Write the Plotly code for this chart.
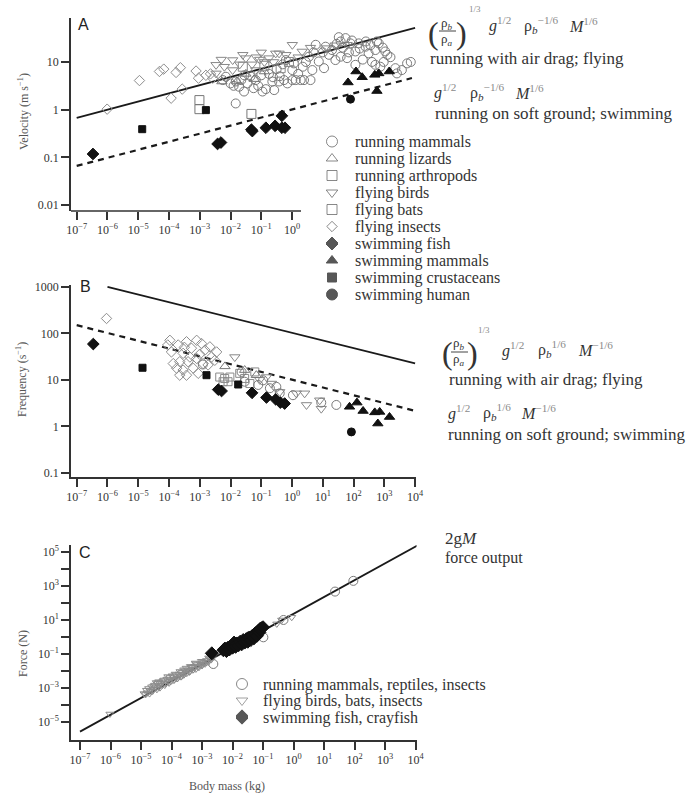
import plotly.graph_objects as go

W, H = 693, 796
SERIF = "Liberation Serif"
SANS = "Liberation Sans"
AX = "#333333"
TXT = "#333333"
GRAY = "#808080"
BLACK = "#111111"

# ---------------- DATA (log10 values) ----------------
# Panel A: velocity (m/s) vs body mass (kg)
a_mammals_logm = [-2.25, -2.15, -2.0, -1.9, -1.83, -1.83, -1.72, -1.65, -1.56, -1.55, -1.45, -1.35, -1.25, -1.18,
                  -1.10, -1.00, -0.96, -0.85, -0.75, -0.64, -0.62, -0.58, -0.50, -0.42, -0.40, -0.30, -0.26, -0.20,
                  -0.15, 0.01, 0.01, 0.06, 0.12, 0.20, 0.28, 0.35, 0.39, 0.45, 0.55, 0.60, 0.66, 0.70, 0.77, 0.87,
                  1.00, 1.04, 1.09, 1.20, 1.30, 1.41, 1.45, 1.52, 1.58, 1.58, 1.65, 1.74, 1.79, 1.85, 1.90, 1.95,
                  2.06, 2.06, 2.17, 2.20, 2.30, 2.39, 2.40, 2.49, 2.55, 2.60, 2.71, 2.71, 2.76, 2.82, 2.87, 2.95,
                  2.98, 3.03, 3.10, 3.20, 3.36, 3.41, 3.57, 3.74, 3.86]
a_mammals_logv = [0.62, 0.69, 0.55, 0.50, 0.59, 0.13, 0.48, 0.62, 0.38, 0.72, 0.55, 0.70, 0.45, 0.62,
                  0.50, 0.72, 0.38, 0.43, 0.75, 0.59, 0.68, 0.41, 0.85, 0.59, 0.70, 0.95, 0.62, 1.04,
                  0.55, 0.62, 0.83, 0.97, 0.62, 0.75, 0.62, 0.90, 0.62, 1.00, 1.11, 0.62, 0.83, 1.20, 1.36, 1.01,
                  1.20, 0.87, 1.32, 1.15, 1.25, 1.04, 1.38, 1.52, 1.11, 1.43, 1.30, 1.50, 1.08, 1.20, 1.39, 1.45,
                  1.22, 0.94, 1.39, 1.28, 1.05, 1.32, 1.43, 1.18, 1.35, 1.00, 1.25, 0.94, 1.43, 1.39, 0.90, 1.30,
                  1.00, 1.22, 1.15, 1.10, 0.87, 0.76, 0.83, 0.97, 1.00]
a_lizards_logm = [-2.28, -1.79, -1.50, -1.23, -0.90]
a_lizards_logv = [0.59, 0.59, 0.75, 0.64, 0.80]
a_arthro_logm = [-3.01, -3.01, -1.32]
a_arthro_logv = [0.20, 0.01, -0.09]
a_birds_logm = [-2.47, -2.47, -2.30, -2.20, -1.93, -1.93, -1.70, -1.60, -1.50, -1.30, -1.18, -1.16, -1.05, -1.00,
                -0.90, -0.75, -0.60, -0.53, -0.42, -0.20, 0.01, 0.20, 0.33, 0.60, 1.14, 1.40, 1.79]
a_birds_logv = [0.94, 0.76, 1.05, 0.90, 1.04, 0.83, 0.95, 1.15, 1.08, 0.95, 0.83, 1.10, 1.05, 1.20,
                1.00, 1.08, 1.00, 1.18, 1.18, 1.15, 1.36, 1.10, 1.22, 1.30, 1.29, 1.35, 1.36]
a_bats_logm = [-1.60, -0.90, -0.37, -0.10]
a_bats_logv = [0.90, 0.92, 0.87, 1.00]
a_insects_logm = [-6.01, -4.96, -4.31, -4.17, -3.93, -3.77, -3.63, -3.57, -3.12, -3.04, -2.80, -2.65, -2.58]
a_insects_logv = [0.01, 0.61, 0.80, 0.85, 0.24, 0.78, 0.88, 0.43, 0.81, 0.66, 0.72, 0.75, 0.66]
a_fish_logm = [-6.47, -2.42, -2.31, -1.32, -1.29, -0.85, -0.55, -0.33, -0.33, -0.23]
a_fish_logv = [-0.93, -0.72, -0.69, -0.42, -0.45, -0.38, -0.34, -0.13, -0.38, -0.38]
a_swmam_logm = [1.82, 2.08, 2.28, 2.69, 2.76, 2.82, 3.16]
a_swmam_logv = [0.57, 0.80, 0.68, 0.73, 0.39, 0.76, 0.80]
a_crust_logm = [-4.87, -2.80]
a_crust_logv = [-0.41, -0.01]
a_human_logm = [1.90]
a_human_logv = [0.22]
a_solid_mass = [1e-7, 1e4]
a_solid_vel = [0.67, 51.6]
a_dash_mass = [1e-7, 7.9e3]
a_dash_vel = [0.066, 4.6]

# Panel B: frequency (1/s) vs body mass
b_insects_logm = [-6.03, -4.04, -3.97, -3.92, -3.86, -3.75, -3.70, -3.65, -3.65, -3.54, -3.54, -3.50, -3.43, -3.43,
                  -3.38, -3.32, -3.27, -3.21, -3.10, -3.10, -3.05, -3.00, -2.94, -2.89, -2.83, -2.73, -2.67,
                  -2.62, -2.51, -2.45]
b_insects_logf = [2.32, 1.75, 1.85, 1.60, 1.35, 1.25, 1.75, 1.39, 1.10, 1.57, 1.21, 1.70, 1.82, 1.10,
                  1.39, 1.49, 1.68, 1.25, 1.85, 1.46, 1.14, 1.55, 1.78, 1.35, 1.64, 1.32, 1.71,
                  1.49, 1.42, 1.60]
b_mammals_logm = [-2.90, -1.64, -1.54, -1.10, -0.94, -0.72, -0.51, -0.40, 0.03, 0.95, 1.44]
b_mammals_logf = [1.33, 1.17, 0.96, 0.89, 0.99, 0.82, 0.85, 0.71, 0.67, 0.51, 0.46]
b_lizards_logm = [-2.18, -1.54, -1.16]
b_lizards_logf = [1.29, 1.21, 1.10]
b_arthro_logm = [-2.35, -2.24, -2.19, -2.08, -2.02]
b_arthro_logf = [1.06, 0.96, 1.03, 0.96, 1.06]
b_birds_logm = [-1.86, -1.05, -0.83, -0.67, -0.40, 0.14, 0.41, 0.47, 0.90, 0.95]
b_birds_logf = [1.49, 1.00, 1.06, 0.92, 0.74, 0.71, 0.71, 0.46, 0.56, 0.38]
b_bats_logm = [-1.70, -1.54, -1.37, -1.21]
b_bats_logf = [1.14, 1.03, 0.92, 1.17]
b_fish_logm = [-6.46, -2.40, -2.29, -1.30, -0.83, -0.53, -0.38, -0.24]
b_fish_logf = [1.77, 0.79, 0.76, 0.72, 0.62, 0.58, 0.51, 0.49]
b_swmam_logm = [1.87, 2.11, 2.31, 2.69, 2.79, 2.85, 3.17]
b_swmam_logf = [0.42, 0.51, 0.33, 0.30, 0.06, 0.31, 0.20]
b_crust_logm = [-4.86, -2.78, -1.75]
b_crust_logf = [1.26, 1.10, 0.90]
b_human_logm = [1.93]
b_human_logf = [-0.12]
b_solid_mass = [1e-6, 1e4]
b_solid_freq = [1000, 22.5]
b_dash_mass = [1e-7, 1e4]
b_dash_freq = [150, 2.15]

# Panel C: force (N) vs body mass
c_run_logm = [-2.63, -0.99, -0.33, 1.36, 1.96]
c_run_logf = [-1.61, -0.04, 0.98, 2.65, 3.28]
c_fly_logm = [-6.02, -4.90, -4.85, -4.82, -4.80, -4.75, -4.72, -4.70, -4.65, -4.62, -4.60, -4.58, -4.55, -4.50,
              -4.50, -4.48, -4.45, -4.42, -4.40, -4.38, -4.35, -4.30, -4.28, -4.25, -4.22, -4.20, -4.15, -4.12,
              -4.10, -4.08, -4.05, -4.00, -3.98, -3.95, -3.92, -3.90, -3.88, -3.85, -3.82, -3.80, -3.75, -3.72,
              -3.70, -3.68, -3.65, -3.60, -3.60, -3.58, -3.55, -3.52, -3.50, -3.45, -3.42, -3.40, -3.38, -3.35,
              -3.30, -3.28, -3.25, -3.22, -3.20, -3.20, -3.15, -3.12, -3.10, -3.05, -3.02, -3.00, -2.98, -2.95,
              -2.90, -2.88, -2.85, -2.80, -2.78, -2.75, -2.70, -2.65, -0.55, -0.39, -0.06]
c_fly_logf = [-4.55, -3.35, -3.40, -3.15, -3.30, -3.05, -3.35, -3.20, -2.95, -3.20, -3.10, -2.90, -2.85, -3.00,
              -2.70, -3.10, -2.75, -2.65, -2.90, -3.00, -2.70, -2.85, -2.60, -2.55, -2.85, -2.75, -2.50, -2.35,
              -2.65, -2.72, -2.40, -2.60, -2.30, -2.35, -2.56, -2.50, -2.20, -2.25, -2.46, -2.45, -2.20, -2.05,
              -2.35, -2.35, -2.10, -2.25, -1.95, -2.21, -2.00, -1.85, -2.15, -1.95, -2.08, -2.05, -1.75, -1.80,
              -1.95, -1.93, -1.75, -1.55, -1.90, -1.60, -1.65, -1.77, -1.80, -1.60, -1.45, -1.70, -1.62, -1.50,
              -1.60, -1.52, -1.40, -1.50, -1.25, -1.30, -1.35, -1.20, 0.75, 0.98, 1.14]
c_swim_logm = [-2.68, -2.30, -2.25, -2.20, -2.15, -2.10, -2.05, -2.00, -1.95, -1.95, -1.90, -1.85, -1.80, -1.75,
               -1.70, -1.65, -1.60, -1.55, -1.50, -1.50, -1.45, -1.40, -1.35, -1.30, -1.25, -1.20, -1.15,
               -1.12, -1.10, -1.05, -1.00]
c_swim_logf = [-0.98, -0.80, -0.70, -0.85, -0.65, -0.75, -0.55, -0.65, -0.45, -0.35, -0.60, -0.40, -0.50, -0.30,
               -0.45, -0.20, -0.35, -0.15, -0.30, -0.10, -0.05, -0.20, 0.05, -0.10, 0.20, 0.05, 0.35,
               0.25, 0.45, 0.50, 0.55]
c_line_mass = [1e-7, 1.23e4]
c_line_force = [2.6e-6, 2.45e5]

# Tick labels
sup = lambda e: "10<sup>" + str(e).replace("-", "\u2212") + "</sup>"
xA_exp = list(range(-7, 1))
xBC_exp = list(range(-7, 5))
yA_vals = [0.01, 0.1, 1, 10]
yA_text = ["0.01", "0.1", "1", "10"]
yB_vals = [0.1, 1, 10, 100, 1000]
yB_text = ["0.1", "1", "10", "100", "1000"]
yC_exp = list(range(-5, 6))

legendA_labels = ["running mammals", "running lizards", "running arthropods", "flying birds", "flying bats",
                  "flying insects", "swimming fish", "swimming mammals", "swimming crustaceans", "swimming human"]
legendA_symbols = ["circle-open", "triangle-up-open", "square-open", "triangle-down-open", "square-open",
                   "diamond-open", "diamond", "triangle-up", "square", "circle"]
legendC_labels = ["running mammals, reptiles, insects", "flying birds, bats, insects", "swimming fish, crayfish"]
legendC_symbols = ["circle-open", "triangle-down-open", "diamond"]

# ---------------- FIGURE ----------------
P = lambda v: [10 ** x for x in v]
fig = go.Figure()


def pts(xa, ya, lm, lv, symbol, size, color, lw=1.0):
    fig.add_trace(go.Scatter(x=P(lm), y=P(lv), mode="markers", xaxis=xa, yaxis=ya, showlegend=False,
                             marker=dict(symbol=symbol, size=size, color=color, line=dict(width=lw, color=color))))


def line(xa, ya, xs, ys, dash=None, width=1.8):
    fig.add_trace(go.Scatter(x=xs, y=ys, mode="lines", xaxis=xa, yaxis=ya, showlegend=False,
                             line=dict(color="#1a1a1a", width=width, dash=dash)))


# Panel A
line("x", "y", a_solid_mass, a_solid_vel)
line("x", "y", a_dash_mass, a_dash_vel, dash="6px,5px", width=2.2)
pts("x", "y", a_insects_logm, a_insects_logv, "diamond-open", 8, "#8c8c8c")
pts("x", "y", a_birds_logm, a_birds_logv, "triangle-down-open", 9, "#888888")
pts("x", "y", a_mammals_logm, a_mammals_logv, "circle-open", 9, "#7a7a7a")
pts("x", "y", a_lizards_logm, a_lizards_logv, "triangle-up-open", 9, "#777777")
pts("x", "y", a_arthro_logm, a_arthro_logv, "square-open", 9, "#777777")
pts("x", "y", a_bats_logm, a_bats_logv, "square-open", 9, "#888888")
pts("x", "y", a_fish_logm, a_fish_logv, "diamond", 9, BLACK)
pts("x", "y", a_swmam_logm, a_swmam_logv, "triangle-up", 9, BLACK)
pts("x", "y", a_crust_logm, a_crust_logv, "square", 7, BLACK)
pts("x", "y", a_human_logm, a_human_logv, "circle", 8, BLACK)

# Panel B
line("x2", "y2", b_solid_mass, b_solid_freq)
line("x2", "y2", b_dash_mass, b_dash_freq, dash="6px,5px", width=2.2)
pts("x2", "y2", b_insects_logm, b_insects_logf, "diamond-open", 8, "#8c8c8c")
pts("x2", "y2", b_arthro_logm, b_arthro_logf, "square-open", 8, "#8a8a8a")
pts("x2", "y2", b_bats_logm, b_bats_logf, "square-open", 8, "#8a8a8a")
pts("x2", "y2", b_birds_logm, b_birds_logf, "triangle-down-open", 9, "#888888")
pts("x2", "y2", b_lizards_logm, b_lizards_logf, "triangle-up-open", 9, "#777777")
pts("x2", "y2", b_mammals_logm, b_mammals_logf, "circle-open", 9, "#7a7a7a")
pts("x2", "y2", b_fish_logm, b_fish_logf, "diamond", 9, BLACK)
pts("x2", "y2", b_swmam_logm, b_swmam_logf, "triangle-up", 9, BLACK)
pts("x2", "y2", b_crust_logm, b_crust_logf, "square", 7, BLACK)
pts("x2", "y2", b_human_logm, b_human_logf, "circle", 8, BLACK)

# Panel C
line("x3", "y3", c_line_mass, c_line_force)
pts("x3", "y3", c_fly_logm, c_fly_logf, "triangle-down-open", 7, "#8c8c8c")
pts("x3", "y3", c_run_logm, c_run_logf, "circle-open", 9, "#7a7a7a")
pts("x3", "y3", c_swim_logm, c_swim_logf, "diamond", 10, BLACK)

# Legends built as marker keys on their own category axes
legA_colors = ["#555555"] * 6 + [BLACK] * 4
legA_sizes = [11, 10, 10, 10, 10, 8, 10, 10, 9, 11]
fig.add_trace(go.Scatter(x=[0] * len(legendA_labels), y=legendA_labels, mode="markers", xaxis="x4", yaxis="y4",
                         showlegend=False,
                         marker=dict(symbol=legendA_symbols, size=legA_sizes, color=legA_colors,
                                     line=dict(width=1, color=legA_colors))))
legC_colors = ["#555555", "#777777", BLACK]
fig.add_trace(go.Scatter(x=[0] * len(legendC_labels), y=legendC_labels, mode="markers", xaxis="x5", yaxis="y5",
                         showlegend=False,
                         marker=dict(symbol=legendC_symbols, size=[11, 10, 11], color=legC_colors,
                                     line=dict(width=1, color=legC_colors))))


def ax(**kw):
    d = dict(type="log", showgrid=False, zeroline=False, showline=True, linecolor=AX, linewidth=1.5,
             ticks="outside", ticklen=8, tickwidth=1.5, tickcolor=AX,
             tickfont=dict(family=SERIF, size=12, color=TXT))
    d.update(kw)
    return d


def fy(p):
    return 1 - p / H


xdomA = [71 / W, 416 / W]
fig.update_layout(
    template="none",
    width=W, height=H, margin=dict(l=0, r=0, t=0, b=0),
    paper_bgcolor="white", plot_bgcolor="rgba(0,0,0,0)",
    font=dict(family=SERIF, color=TXT),
    xaxis=ax(domain=xdomA, range=[-7.185, 4.03], anchor="y", showline=False,
             tickvals=[10 ** e for e in xA_exp], ticktext=[sup(e) for e in xA_exp]),
    yaxis=ax(domain=[fy(211), fy(18)], range=[-2.126, 1.922], anchor="x", tickvals=yA_vals, ticktext=yA_text),
    xaxis2=ax(domain=xdomA, range=[-7.185, 4.03], anchor="y2",
              tickvals=[10 ** e for e in xBC_exp], ticktext=[sup(e) for e in xBC_exp]),
    yaxis2=ax(domain=[fy(477), fy(285)], range=[-1.09, 3.04], anchor="x2", tickvals=yB_vals, ticktext=yB_text),
    xaxis3=ax(domain=[71 / W, 416.5 / W], range=[-7.295, 4.03], anchor="y3",
              tickvals=[10 ** e for e in xBC_exp], ticktext=[sup(e) for e in xBC_exp]),
    yaxis3=ax(domain=[fy(740), fy(545)], range=[-6.08, 5.39], anchor="x3",
              tickvals=[10 ** e for e in yC_exp], ticktext=[sup(e) if e % 2 else "" for e in yC_exp]),
    xaxis4=dict(domain=[326 / W, 338 / W], range=[-1, 1], visible=False, anchor="y4"),
    yaxis4=dict(type="category", categoryorder="array", categoryarray=legendA_labels, range=[9.5, -0.5],
                tickmode="array", tickvals=legendA_labels, ticktext=legendA_labels,
                domain=[fy(303), fy(133)], anchor="free", position=354 / W, side="right",
                showline=False, ticks="", showgrid=False, zeroline=False,
                tickfont=dict(family=SERIF, size=16, color=TXT)),
    xaxis5=dict(domain=[236 / W, 248 / W], range=[-1, 1], visible=False, anchor="y5"),
    yaxis5=dict(type="category", categoryorder="array", categoryarray=legendC_labels, range=[2.5, -0.5],
                tickmode="array", tickvals=legendC_labels, ticktext=legendC_labels,
                domain=[fy(725.25), fy(675.75)], anchor="free", position=262 / W, side="right",
                showline=False, ticks="", showgrid=False, zeroline=False,
                tickfont=dict(family=SERIF, size=16, color=TXT)),
)

# Partial x-axis line for panel A (drawn only to just past 10^0)
fig.add_shape(type="line", xref="x domain", yref="y domain", x0=0, x1=(301 - 71) / 345, y0=0, y1=0,
              line=dict(color=AX, width=1.5))

ann = []


def txt(x, y, s, size=17, anchor="left", family=SERIF, color=TXT, angle=0):
    ann.append(dict(x=x / W, y=fy(y), xref="paper", yref="paper", text=s, showarrow=False,
                    xanchor=anchor, yanchor="middle", textangle=angle,
                    font=dict(family=family, size=size, color=color)))


# panel letters
txt(83, 24, "A", 16, "center", SANS, "#222")
txt(85, 286, "B", 16, "center", SANS, "#222")
txt(85, 552, "C", 16, "center", SANS, "#222")

# axis titles
txt(24, 112, "Velocity (m s<sup>\u22121</sup>)", 12, "center", SERIF, "#555", -90)
txt(22, 380, "Frequency (s<sup>\u22121</sup>)", 12, "center", SERIF, "#555", -90)
txt(23, 654, "Force (N)", 12, "center", SERIF, "#555", -90)
txt(227, 786, "Body mass (kg)", 12, "center", SERIF, "#555")

EXP = "#8a8a8a"


def e(s):
    return "<sup><span style='color:%s'>%s</span></sup>" % (EXP, s)


rho_b = "\u03c1<sub><i>b</i></sub>"
rho_a = "\u03c1<sub><i>a</i></sub>"

# Formula A (top)
txt(433, 33, "(", 32, "center")
txt(447, 23, rho_b, 13, "center")
txt(447, 39, rho_a, 13, "center")
txt(461, 33, ")", 32, "center")
txt(467, 9, "1/3", 9, "left", SERIF, EXP)
txt(487, 25, "<i>g</i>" + e("1/2"), 16)
txt(522, 25, "\u03c1<sub><i>b</i></sub>" + e("\u22121/6"), 16)
txt(567, 25, "<i>M</i>" + e("1/6"), 16)
txt(428, 58, "running with air drag; flying", 17)
txt(432, 92, "<i>g</i>" + e("1/2"), 16)
txt(468, 92, "\u03c1<sub><i>b</i></sub>" + e("\u22121/6"), 16)
txt(513, 92, "<i>M</i>" + e("1/6"), 16)
txt(433, 113, "running on soft ground; swimming", 17)

# Formula B
txt(447, 353, "(", 32, "center")
txt(459, 343, rho_b, 13, "center")
txt(459, 360, rho_a, 13, "center")
txt(472, 353, ")", 32, "center")
txt(476, 330, "1/3", 9, "left", SERIF, EXP)
txt(500, 349, "<i>g</i>" + e("1/2"), 16)
txt(536, 349, "\u03c1<sub><i>b</i></sub>" + e("1/6"), 16)
txt(576, 349, "<i>M</i>" + e("\u22121/6"), 16)
txt(447, 380, "running with air drag; flying", 17)
txt(446, 412, "<i>g</i>" + e("1/2"), 16)
txt(481, 412, "\u03c1<sub><i>b</i></sub>" + e("1/6"), 16)
txt(519, 412, "<i>M</i>" + e("\u22121/6"), 16)
txt(446, 435, "running on soft ground; swimming", 17)

# Formula C
txt(443, 538, "2g<i>M</i>", 17)
txt(443, 558, "force output", 16)

fig.update_layout(annotations=ann)

# fraction bars
for (x0, x1, y) in [(439, 456, 31), (451, 468, 352)]:
    fig.add_shape(type="line", xref="paper", yref="paper", x0=x0 / W, x1=x1 / W, y0=fy(y), y1=fy(y),
                  line=dict(color="#444", width=1))

fig.write_html("out.html")
